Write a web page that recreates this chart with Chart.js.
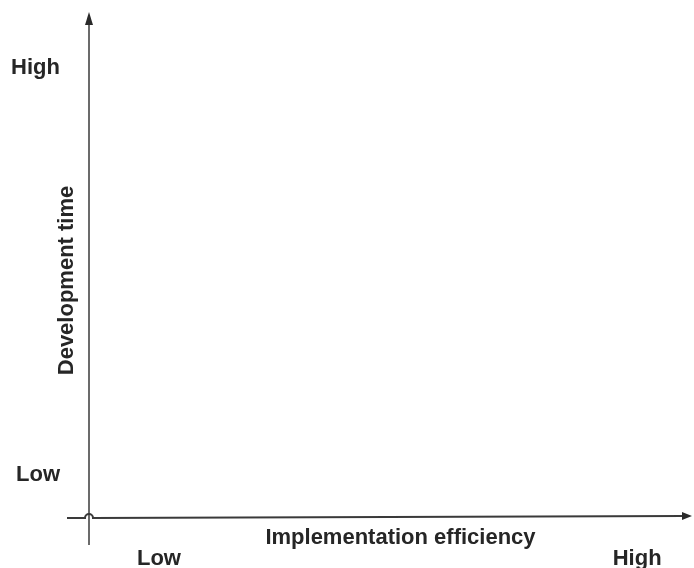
<!DOCTYPE html>
<html>
<head>
<meta charset="utf-8">
<script src="https://cdn.jsdelivr.net/npm/chart.js@4"></script>
<style>
  html, body { margin: 0; padding: 0; background: #fff; }
  #wrap { width: 694px; height: 568px; }
</style>
</head>
<body>
<div id="wrap"><canvas id="chart"></canvas></div>
<script>
// axis labels
const xTitle = 'Implementation efficiency';
const yTitle = 'Development time';
const xTickLabels = ['Low', 'High'];
const xTickValues = [0.116, 0.909];
const yTickLabels = ['Low', 'High'];
const yTickValues = [0.083, 0.889];

const INK = '#262626';
const FONT = { family: "'Liberation Sans', Arial, sans-serif", size: 22, weight: 'bold' };

// draws axes with arrows + axis titles (titles sit between ticks and axis in the original)
const axesPlugin = {
    id: 'axesArrows',
    afterDraw(chart) {
        const { ctx, chartArea: a } = chart;
        ctx.save();
        ctx.strokeStyle = '#3a3a3a';
        ctx.fillStyle = '#2a2a2a';

        // y axis
        ctx.lineWidth = 1.5;
        ctx.beginPath();
        ctx.moveTo(a.left, a.top + 8);
        ctx.lineTo(a.left, a.bottom + 28);
        ctx.stroke();
        ctx.beginPath();
        ctx.moveTo(a.left, a.top);
        ctx.lineTo(a.left - 4, a.top + 13);
        ctx.lineTo(a.left + 4, a.top + 13);
        ctx.closePath();
        ctx.fill();

        // x axis
        ctx.lineWidth = 2;
        ctx.beginPath();
        ctx.moveTo(a.left - 22, a.bottom + 1);
        ctx.lineTo(a.left - 4, a.bottom + 1);
        ctx.arc(a.left, a.bottom + 1, 4, Math.PI, 0);
        ctx.lineTo(a.right - 8, a.bottom - 1);
        ctx.stroke();
        ctx.beginPath();
        ctx.moveTo(a.right, a.bottom - 1);
        ctx.lineTo(a.right - 10, a.bottom - 5);
        ctx.lineTo(a.right - 10, a.bottom + 3);
        ctx.closePath();
        ctx.fill();

        // titles
        ctx.fillStyle = INK;
        ctx.font = `${FONT.weight} ${FONT.size}px ${FONT.family}`;
        ctx.textAlign = 'center';
        ctx.textBaseline = 'middle';
        ctx.fillText(chart.options.scales.x.title.text, (a.left + a.right) / 2 + 10, a.bottom + 21);
        ctx.translate(a.left - 22, (a.top + a.bottom) / 2 + 16);
        ctx.rotate(-Math.PI / 2);
        ctx.fillText(chart.options.scales.y.title.text, 0, 0);
        ctx.restore();
    }
};

// eslint-disable-next-line no-undef
new Chart(document.getElementById('chart'), {
    type: 'scatter',
    data: { datasets: [] },
    options: {
        responsive: true,
        maintainAspectRatio: false,
        animation: false,
        layout: { padding: { top: 12, right: 2, left: 0, bottom: 0 } },
        plugins: { legend: { display: false }, tooltip: { enabled: false } },
        scales: {
            x: {
                type: 'linear',
                min: 0,
                max: 1,
                grid: { display: false },
                border: { display: false },
                title: { display: false, text: xTitle },
                afterBuildTicks: s => { s.ticks = xTickValues.map(v => ({ value: v })); },
                afterFit: s => { s.height = 51; s.paddingLeft = 0; s.paddingRight = 0; },
                ticks: {
                    color: INK,
                    font: FONT,
                    padding: 21,
                    maxRotation: 0,
                    callback: (v, i) => xTickLabels[i]
                }
            },
            y: {
                type: 'linear',
                min: 0,
                max: 1,
                grid: { display: false },
                border: { display: false },
                title: { display: false, text: yTitle },
                afterBuildTicks: s => { s.ticks = yTickValues.map(v => ({ value: v })); },
                afterFit: s => { s.width = 89; s.paddingTop = 0; s.paddingBottom = 0; },
                ticks: {
                    color: INK,
                    font: FONT,
                    padding: 21,
                    callback: (v, i) => yTickLabels[i]
                }
            }
        }
    },
    plugins: [axesPlugin]
});
</script>
</body>
</html>
